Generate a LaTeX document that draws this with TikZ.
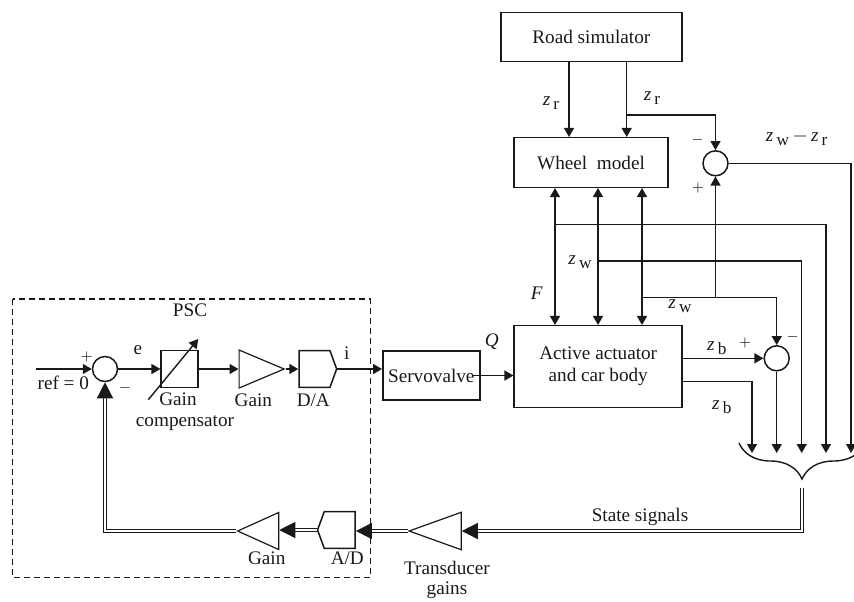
\documentclass[tikz,border=0pt]{standalone}
\usepackage{fontspec}
\setmainfont{Liberation Serif}
\usepackage{xcolor}
\definecolor{ink}{RGB}{25,25,25}
\usepackage{tikz}
\usetikzlibrary{arrows.meta,positioning,calc,shapes.geometric,shapes.symbols,decorations.pathreplacing}
\newcommand\figfont{\fontsize{9.6pt}{11pt}\selectfont}
\newcommand\signfont{\fontsize{7.5pt}{8pt}\selectfont}
\newcommand\zsig[1]{\textit{z}\,\raisebox{-0.45ex}{\fontsize{8.6pt}{9pt}\selectfont #1}}
\tikzset{
  %% blocks
  blk/.style={draw=ink, line width=0.75pt, rectangle, inner sep=1pt, align=center},
  sumc/.style={draw=ink, line width=0.75pt, circle, minimum size=12.5pt, inner sep=0pt},
  amp/.style={draw=ink, line width=0.6pt, isosceles triangle, isosceles triangle stretches, inner sep=0pt},
  conv/.style={draw=ink, line width=0.75pt, signal, signal from=nowhere, signal pointer angle=140,
               inner sep=0pt, minimum width=18.8pt, minimum height=18.4pt},
  %% connectors
  sig/.style={draw=ink, line width=0.7pt, -{Triangle[length=4.5pt,width=5pt]}},
  sigs/.style={draw=ink, line width=0.7pt, {Triangle[length=4.5pt,width=5pt]}-{Triangle[length=4.5pt,width=5pt]}},
  bus/.style={draw=ink, line width=0.6pt, double, double distance=0.9pt},
  busarr/.style={bus, -{Triangle[length=8pt,width=8pt]}},
  lbl/.style={inner sep=0pt},
  pm/.style={inner sep=0pt, font=\signfont},
}

\begin{document}
\begin{tikzpicture}[x=0.5pt, y=-0.5pt, font=\figfont, ink]
\useasboundingbox (0,0) rectangle (854,601);

% plant
\node[blk, minimum width=90.5pt, minimum height=24.5pt] (road) at (591.3,37.2) {Road simulator};
\node[blk, minimum width=77pt, minimum height=24.8pt] (wheel) at (591,162.5) {Wheel\ \ model};
\node[blk, minimum width=84pt, minimum height=41pt] (act) at (598.2,366.7) {Active actuator\\and car body};
\node[blk, minimum width=48.5pt, minimum height=24.5pt] (servo) at (431.3,375.5) {Servovalve};
\node[sumc] (sdiff) at (715.5,163.3) {};
\node[sumc] (sbody) at (776.7,358.3) {};

% controller
\draw[ink, line width=0.75pt, dash pattern=on 3pt off 2pt] (12.7,299) rectangle (370.7,577.3);
\node[lbl] (psc) at (190,310.7) {PSC};
\node[sumc] (sref) at (105,369) {};
\node[blk, minimum size=18.5pt] (comp) at (179.7,369) {};
\node[amp, minimum width=19pt, minimum height=22.5pt] (gain) at (251.7,369) {};
\node[conv, signal to=east] (da) at (314.5,369) {};
\node[conv, signal to=west] (ad) at (339.7,530) {};
\node[amp, shape border rotate=180, minimum width=18.5pt, minimum height=20.5pt] (fbgain) at (266.7,531) {};
\node[amp, shape border rotate=180, minimum width=18.7pt, minimum height=26pt] (trans) at (448,531) {};

% taps and free ends
\coordinate (refin) at (36,369);
\coordinate (zrtap) at (626.7,115);
\coordinate (cr1) at (569,0);
\coordinate (cF) at (555,224.3);
\coordinate (cW1) at (598,261);
\coordinate (cW2) at (642,297.3);
\coordinate (in1) at (752,453);
\coordinate (in2) at (776.7,453);
\coordinate (in3) at (801.7,453);
\coordinate (in4) at (826,453);
\coordinate (in5) at (851,453);
\coordinate (stin) at (801.7,488);

% road -> wheel
\draw[sig] (road.south -| cr1) -- (wheel.north -| cr1);
\draw[sig] (road.south -| zrtap) -- (wheel.north -| zrtap);
\draw[sig] (zrtap) -| (sdiff.north);
% wheel <-> actuator
\foreach \c in {cF,cW1,cW2}
  \draw[sigs] (wheel.south -| \c) -- (act.north -| \c);
% state lines
\draw[sig] (cF) -| (in4);
\draw[sig] (cW1) -| (in3);
\draw[sig] (cW2) -| (sbody.north);
\draw[sig] (cW2 -| sdiff) -- (sdiff.south);
\draw[sig] (sdiff.east) -| (in5);
\draw[sig] (act.east |- sbody) -- (sbody.west);
\draw[sig] ([yshift=-7.5pt]act.east) -| (in1);
\draw[sig] (sbody.south) -- (in2);
\draw[line width=0.7pt, decorate, decoration={brace, amplitude=18pt}] (865,443) -- (739,443);

% feedback bus
\draw[busarr] (stin) |- (trans.east);
\draw[busarr] (trans.west) -- (trans.west -| ad.east);
\draw[busarr] (ad.west) -- (ad.west -| fbgain.east);
\draw[busarr] (fbgain.west) -| (sref.south);

% forward path
\draw[sig] (refin) -- (sref.west);
\draw[sig] (sref.east) -- (comp.west);
\draw[sig] (comp.east) -- (gain.west);
\draw[sig] (gain.east) -- (da.west);
\draw[sig] (da.east) -- (servo.west |- da.east);
\draw[sig] ([xshift=-4pt]servo.east) -- (act.west |- servo.east);
\draw[sig] ([shift={(-31.4,30.7)}]comp.center) -- ([shift={(18.6,-30)}]comp.center);

% labels
\node[lbl] (lzr1) at (551,103) {\zsig{r}};
\node[lbl] (lzr2) at (652,98) {\zsig{r}};
\node[pm] (mdiff) at (697.7,140) {$-$};
\node[pm] (pdiff) at (698,187.7) {$+$};
\node[lbl] (lzwr) at (796.7,138) {\zsig{w}\,$-$\,\zsig{r}};
\node[lbl] (lF) at (536.7,293) {\textit{F}};
\node[lbl] (lzw1) at (580,262) {\zsig{w}};
\node[lbl] (lzw2) at (680,306) {\zsig{w}};
\node[lbl] (lQ) at (491.7,341.7) {\textit{Q}};
\node[lbl] (lzb1) at (716.7,348) {\zsig{b}};
\node[pm] (pbody) at (745,342.7) {$+$};
\node[pm] (mbody) at (792.7,336.7) {$-$};
\node[lbl] (lzb2) at (721.7,406.7) {\zsig{b}};
\node[pm] (pref) at (86.7,356.7) {$+$};
\node[lbl] (lref) at (63.3,383.3) {ref = 0};
\node[pm] (mref) at (125,388) {$-$};
\node[lbl] (le) at (138,350) {e};
\node[lbl] (lcomp1) at (178,399.3) {Gain};
\node[lbl] (lcomp2) at (185,422.7) {compensator};
\node[lbl] (lgain) at (253.3,400) {Gain};
\node[lbl] (lda) at (313.3,400) {D/A};
\node[lbl] (li) at (346.7,353.3) {i};
\node[lbl] (lstate) at (640,516.7) {State signals};
\node[lbl] (lfbgain) at (266.7,558.3) {Gain};
\node[lbl] (lad) at (347.3,558.3) {A/D};
\node[lbl] (ltrans1) at (447,568.3) {Transducer};
\node[lbl] (ltrans2) at (447,590) {gains};
\end{tikzpicture}
\end{document}
